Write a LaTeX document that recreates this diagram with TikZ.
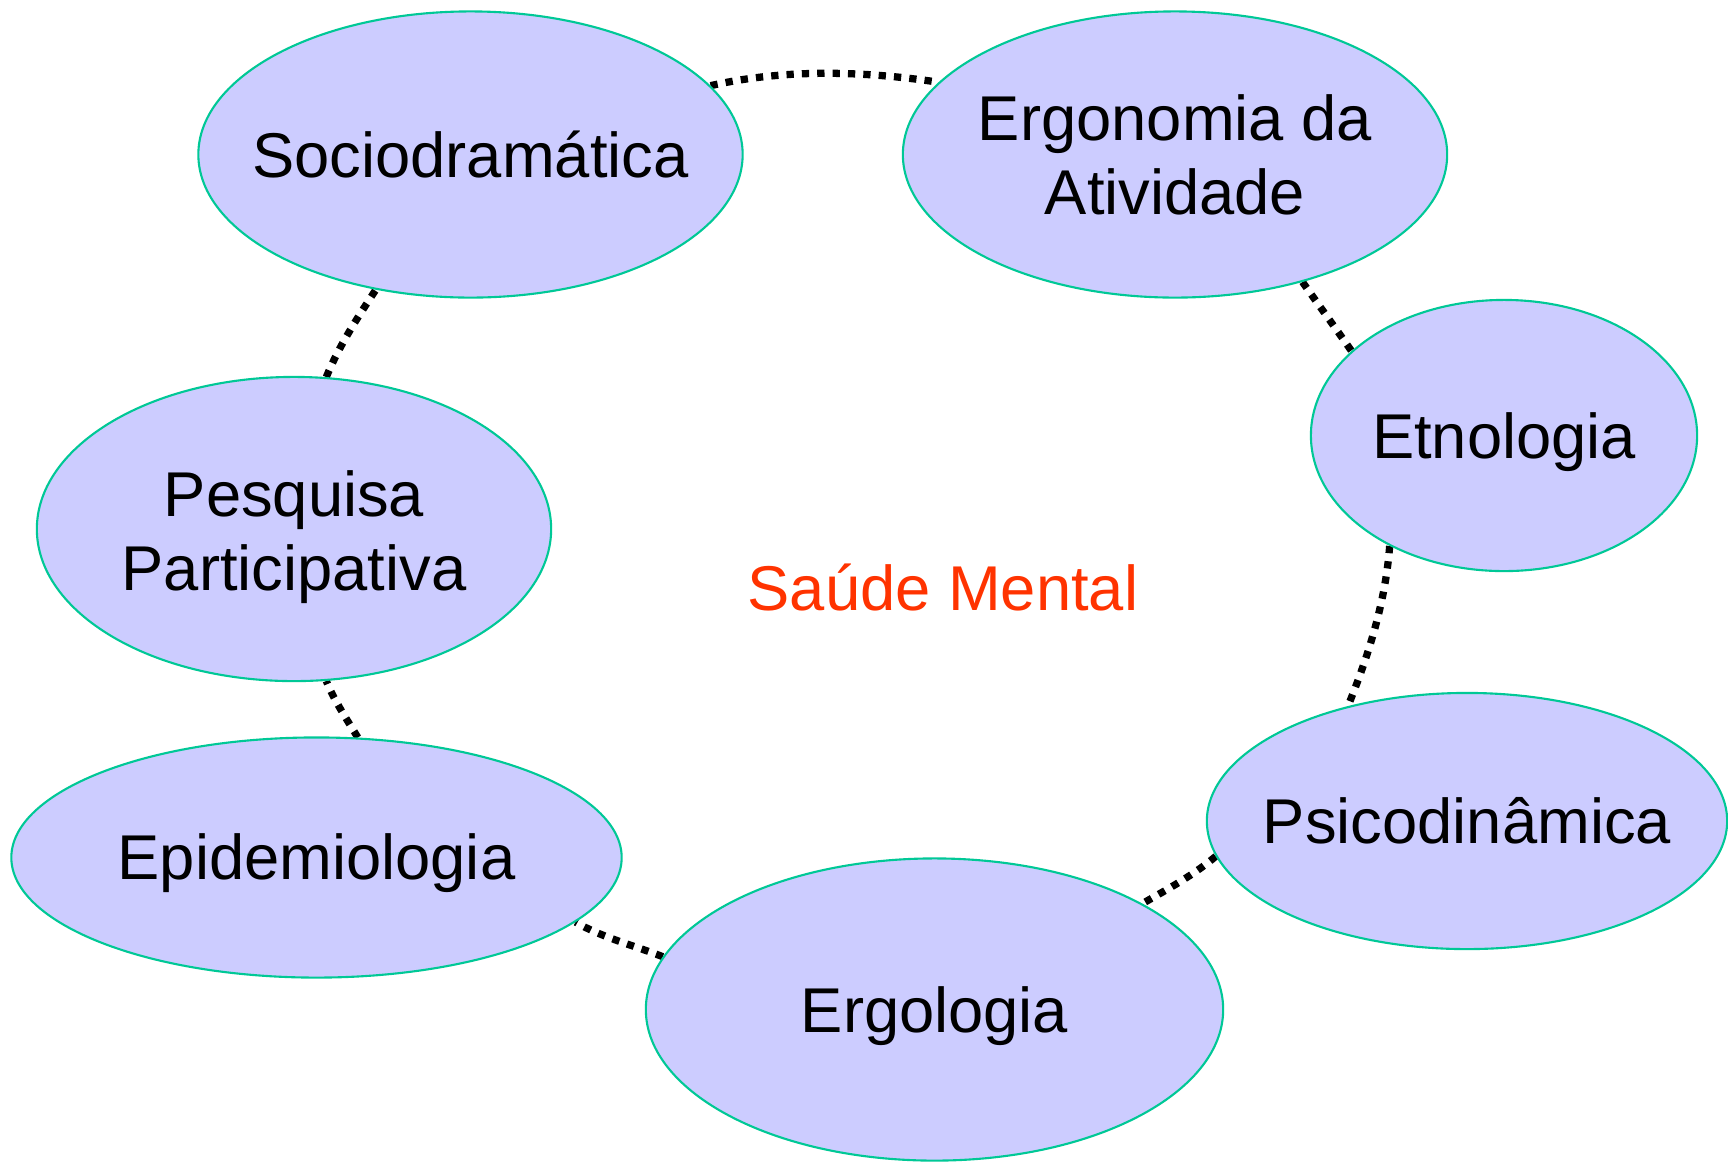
\documentclass[tikz,border=0pt]{standalone}
\usepackage{fontspec}
\setmainfont{Liberation Sans}
\usetikzlibrary{shapes.geometric,backgrounds}
\definecolor{blobfill}{HTML}{CCCCFF}
\definecolor{blobline}{HTML}{00C896}
\definecolor{titlered}{HTML}{FF3300}
\begin{document}
\begin{tikzpicture}[x=0.01cm,y=-0.01cm,
  blob/.style={ellipse, draw=blobline, fill=blobfill, line width=0.6pt, inner sep=0pt},
  txt/.style={font=\fontsize{18}{21}\selectfont, align=center, text=black, inner sep=0pt},
  link/.style={line width=2.07pt, dash pattern=on 2.07pt off 2.3pt, draw=black}]
\path[use as bounding box] (0,0) rectangle (1728,1163);

\node[blob, minimum width=5.44cm, minimum height=2.86cm] (socio) at (470.5,154.5) {};
\node[blob, minimum width=5.44cm, minimum height=2.86cm] (ergo) at (1175,154.5) {};
\node[blob, minimum width=3.86cm, minimum height=2.71cm] (etno) at (1504,435.5) {};
\node[blob, minimum width=5.20cm, minimum height=2.56cm] (psico) at (1467,821) {};
\node[blob, minimum width=5.77cm, minimum height=3.02cm] (ergol) at (934.5,1009.5) {};
\node[blob, minimum width=6.10cm, minimum height=2.40cm] (epid) at (316.5,857.5) {};
\node[blob, minimum width=5.14cm, minimum height=3.04cm] (pesq) at (294,529) {};

\node[txt] (socioT) at (socio) {Sociodramática};
\node[txt] (ergoT) at (ergo) {Ergonomia da\\Atividade};
\node[txt] (etnoT) at (1504,442.5) {Etnologia};
\node[txt] (psicoT) at (psico) {Psicodinâmica};
\node[txt] (ergolT) at (934.5,1016.5) {Ergologia};
\node[txt] (epidT) at (316.5,863.5) {Epidemiologia};
\node[txt] (pesqT) at (294,537) {Pesquisa\\Participativa};
\node[txt, text=titlered] (saude) at (943,587) {Saúde Mental};

\begin{scope}[on background layer]
\draw[link] (socio.16) .. controls (783.8,69.2) and (858.8,70.3) .. (ergo.163);
\draw[link] (ergo.315) .. controls (1317.9,304.0) and (1333.4,325.1) .. (etno.151);
\draw[link] (etno.224) .. controls (1385.5,600.9) and (1369.4,653.2) .. (psico.136);
\draw[link] (psico.188) .. controls (1193.5,875.1) and (1169.5,888) .. (ergol.27);
\draw[link] (ergol.169) .. controls (633.7,945.3) and (601.7,937.4) .. (epid.346);
\draw[link] (epid.71) .. controls (347.4,720.2) and (334.8,701.8) .. (pesq.282);
\draw[link] (pesq.78) .. controls (339.1,345.6) and (358.1,316.7) .. (socio.235);
\end{scope}
\end{tikzpicture}
\end{document}
